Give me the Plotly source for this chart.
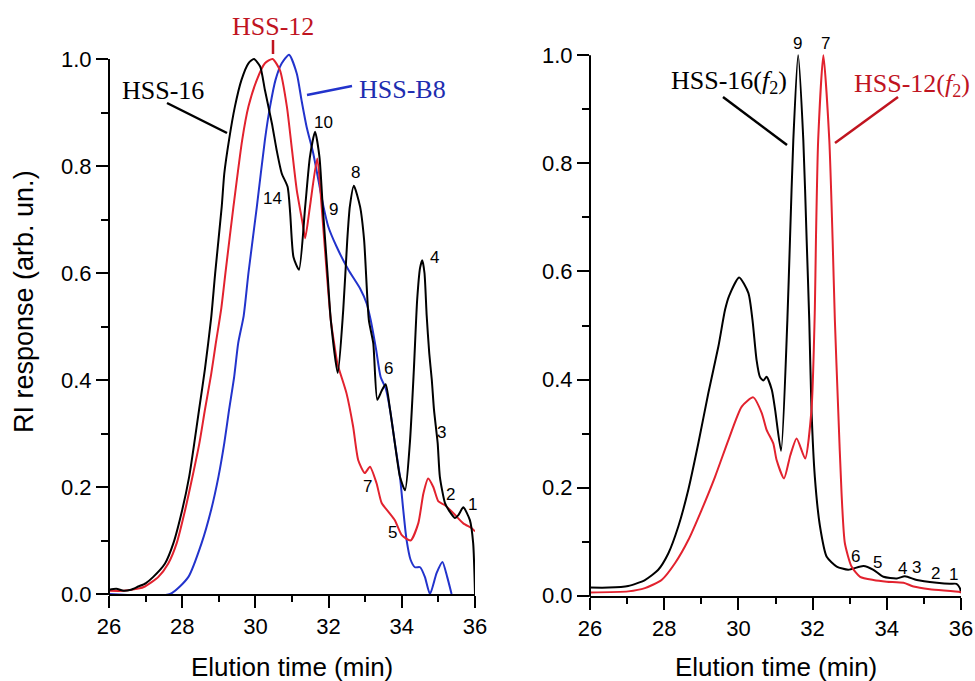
import plotly.graph_objects as go

# ---------------- data ----------------
# Left panel: HSS-16 (black)
hss16_x = [26.0, 26.2, 26.4, 26.6, 26.8, 27.0, 27.21, 27.53, 27.76, 28.00, 28.19, 28.33, 28.46,
           28.62, 28.79, 28.90, 29.08, 29.15, 29.28, 29.44, 29.62, 29.81, 29.96, 30.13, 30.26,
           30.45, 30.58, 30.72, 30.88, 30.95, 31.04, 31.19, 31.36, 31.49, 31.63, 31.75, 31.84,
           31.97, 32.06, 32.25, 32.40, 32.51, 32.58, 32.69, 32.86, 32.97, 33.10, 33.22, 33.33,
           33.45, 33.56, 33.68, 33.81, 33.95, 34.09, 34.22, 34.33, 34.42, 34.50, 34.56, 34.62,
           34.68, 34.75, 34.82, 34.88, 34.98, 35.04, 35.18, 35.30, 35.45, 35.55, 35.68, 35.86,
           35.95, 36.0]
hss16_y = [0.008, 0.010, 0.006, 0.008, 0.014, 0.020, 0.032, 0.057, 0.095, 0.157, 0.219, 0.282, 0.344,
           0.420, 0.515, 0.599, 0.724, 0.786, 0.849, 0.911, 0.961, 0.992, 1.000, 0.986, 0.942,
           0.880, 0.830, 0.786, 0.761, 0.712, 0.630, 0.606, 0.724, 0.817, 0.864, 0.817, 0.724,
           0.600, 0.512, 0.413, 0.531, 0.662, 0.724, 0.763, 0.724, 0.662, 0.512, 0.469, 0.363,
           0.380, 0.392, 0.344, 0.282, 0.219, 0.194, 0.282, 0.420, 0.550, 0.610, 0.624, 0.600,
           0.520, 0.450, 0.400, 0.344, 0.282, 0.219, 0.170, 0.155, 0.142, 0.148, 0.162, 0.138,
           0.095, 0.0]

# Left panel: HSS-12 (red)
hss12_x = [26.0, 26.4, 26.8, 26.98, 27.35, 27.62, 27.85, 28.08, 28.28, 28.47, 28.62, 28.79, 28.91,
           29.07, 29.19, 29.40, 29.64, 29.81, 30.04, 30.26, 30.47, 30.67, 30.86, 31.00, 31.13,
           31.29, 31.36, 31.49, 31.69, 31.81, 31.95, 32.06, 32.15, 32.24, 32.49, 32.67, 32.81,
           32.99, 33.13, 33.31, 33.45, 33.63, 33.81, 34.00, 34.24, 34.45, 34.59, 34.72, 34.86,
           35.00, 35.18, 35.41, 35.68, 35.91, 36.0]
hss12_y = [0.006, 0.006, 0.010, 0.014, 0.032, 0.057, 0.095, 0.157, 0.219, 0.282, 0.344, 0.410, 0.465,
           0.535, 0.605, 0.724, 0.849, 0.911, 0.961, 0.992, 1.000, 0.979, 0.911, 0.830, 0.755,
           0.693, 0.665, 0.724, 0.814, 0.724, 0.600, 0.512, 0.469, 0.431, 0.375, 0.313, 0.250,
           0.226, 0.238, 0.207, 0.170, 0.154, 0.138, 0.110, 0.100, 0.132, 0.188, 0.216, 0.200,
           0.173, 0.166, 0.151, 0.132, 0.123, 0.117]

# Left panel: HSS-B8 (blue)
hssb8_x = [26.0, 27.67, 28.17, 28.53, 28.79, 28.99, 29.15, 29.28, 29.42, 29.53, 29.68, 29.81, 30.04,
           30.26, 30.40, 30.55, 30.72, 30.92, 31.13, 31.26, 31.40, 31.58, 31.72, 31.86, 31.99,
           32.22, 32.54, 32.86, 33.04, 33.15, 33.30, 33.42, 33.56, 33.68, 33.81, 33.95, 34.04,
           34.13, 34.24, 34.36, 34.50, 34.63, 34.77, 34.95, 35.11, 35.24, 35.36]
hssb8_y = [0.0, 0.0, 0.032, 0.095, 0.157, 0.219, 0.282, 0.344, 0.406, 0.469, 0.520, 0.600, 0.724,
           0.849, 0.911, 0.961, 0.992, 1.008, 0.973, 0.923, 0.873, 0.824, 0.774, 0.724, 0.687,
           0.649, 0.606, 0.571, 0.543, 0.512, 0.456, 0.406, 0.384, 0.344, 0.282, 0.219, 0.157,
           0.101, 0.064, 0.050, 0.050, 0.032, 0.0, 0.039, 0.060, 0.032, 0.0]

# Right panel: HSS-16(f2) (black)
f16_x = [26.0, 26.5, 27.03, 27.48, 27.84, 28.11, 28.38, 28.65, 28.92, 29.19, 29.46, 29.64, 29.75,
         30.02, 30.27, 30.38, 30.49, 30.58, 30.67, 30.76, 30.90, 30.99, 31.15, 31.32, 31.39,
         31.48, 31.61, 31.75, 31.84, 31.91, 31.97, 32.06, 32.20, 32.38, 32.65, 32.96, 33.37,
         33.64, 33.91, 34.27, 34.49, 34.81, 35.35, 35.70, 35.88, 35.97, 36.0]
f16_y = [0.015, 0.015, 0.018, 0.029, 0.048, 0.078, 0.128, 0.196, 0.282, 0.375, 0.461, 0.529, 0.555,
         0.589, 0.560, 0.510, 0.436, 0.405, 0.398, 0.405, 0.381, 0.344, 0.268, 0.510, 0.658,
         0.843, 1.000, 0.843, 0.658, 0.510, 0.344, 0.220, 0.128, 0.072, 0.054, 0.048, 0.055,
         0.048, 0.035, 0.032, 0.036, 0.029, 0.024, 0.022, 0.022, 0.014, 0.005]

# Right panel: HSS-12(f2) (red)
f12_x = [26.0, 27.03, 27.48, 27.93, 28.29, 28.65, 29.01, 29.37, 29.73, 30.09, 30.40, 30.63, 30.76,
         30.94, 31.03, 31.23, 31.40, 31.57, 31.80, 31.97, 32.06, 32.09, 32.15, 32.29, 32.45,
         32.54, 32.60, 32.69, 32.78, 32.87, 33.05, 33.28, 33.64, 34.00, 34.45, 34.72, 35.16,
         35.97, 36.0]
f12_y = [0.006, 0.008, 0.014, 0.029, 0.060, 0.103, 0.159, 0.220, 0.288, 0.350, 0.367, 0.338, 0.307,
         0.282, 0.251, 0.217, 0.260, 0.291, 0.254, 0.344, 0.529, 0.658, 0.843, 1.000, 0.843,
         0.658, 0.510, 0.344, 0.190, 0.097, 0.054, 0.035, 0.029, 0.026, 0.024, 0.017, 0.012,
         0.007, 0.006]

x_tickvals = [26, 28, 30, 32, 34, 36]
y_tickvals = [0.0, 0.2, 0.4, 0.6, 0.8, 1.0]

# ---------------- styling / layout ----------------
W, H = 975, 681
BLACK = "#000000"
RED = "#e2222e"
BLUE = "#2233cc"
RED_TXT = "#c0141f"
BLUE_TXT = "#1e2db0"
SANS = "Liberation Sans, Arial, sans-serif"
SERIF = "Liberation Serif, Times New Roman, serif"
YMAX = 1.04


def P(px, py):
    """screen pixel -> paper coordinates"""
    return px / W, 1 - py / H


L_X = [P(109, 0)[0], P(475, 0)[0]]
L_Y = [P(0, 594)[1], P(0, 594 - YMAX * 535)[1]]
R_X = [P(590, 0)[0], P(961, 0)[0]]
R_Y = [P(0, 595.7)[1], P(0, 595.7 - YMAX * 540.4)[1]]

fig = go.Figure()
line_kw = dict(shape="spline", smoothing=0.6, width=2)
fig.add_trace(go.Scatter(x=hssb8_x, y=hssb8_y, mode="lines", line=dict(color=BLUE, **line_kw),
                         xaxis="x", yaxis="y", showlegend=False))
fig.add_trace(go.Scatter(x=hss12_x, y=hss12_y, mode="lines", line=dict(color=RED, **line_kw),
                         xaxis="x", yaxis="y", showlegend=False))
fig.add_trace(go.Scatter(x=hss16_x, y=hss16_y, mode="lines", line=dict(color=BLACK, **line_kw),
                         xaxis="x", yaxis="y", showlegend=False))
fig.add_trace(go.Scatter(x=f16_x, y=f16_y, mode="lines", line=dict(color=BLACK, **line_kw),
                         xaxis="x2", yaxis="y2", showlegend=False))
fig.add_trace(go.Scatter(x=f12_x, y=f12_y, mode="lines", line=dict(color=RED, **line_kw),
                         xaxis="x2", yaxis="y2", showlegend=False))

tickfont = dict(family=SANS, size=22, color=BLACK)


def xaxis(domain, anchor):
    return dict(domain=domain, anchor=anchor, range=[26, 36], tickvals=x_tickvals,
                ticks="outside", ticklen=12, tickwidth=2, tickcolor=BLACK, automargin=False,
                showline=True, linewidth=2, linecolor=BLACK, showgrid=False, zeroline=False,
                tickfont=tickfont, ticklabeloverflow="allow",
                minor=dict(dtick=1, tick0=26, ticks="outside", ticklen=6, tickwidth=2,
                           tickcolor=BLACK, showgrid=False))


def yaxis(domain, anchor):
    return dict(domain=domain, anchor=anchor, range=[0, YMAX], tickvals=y_tickvals,
                tickformat=".1f", ticks="outside", ticklen=12, tickwidth=2, tickcolor=BLACK,
                showline=False, showgrid=False, zeroline=False, tickfont=tickfont,
                automargin=False,
                minor=dict(dtick=0.1, tick0=0, ticks="outside", ticklen=7, tickwidth=2,
                           tickcolor=BLACK, showgrid=False))


fig.update_layout(
    width=W, height=H, autosize=False, margin=dict(l=0, r=0, t=0, b=0, pad=0, autoexpand=False),
    paper_bgcolor="white", plot_bgcolor="white", hovermode=False,
    xaxis=xaxis(L_X, "y"), yaxis=yaxis(L_Y, "x"),
    xaxis2=xaxis(R_X, "y2"), yaxis2=yaxis(R_Y, "x2"),
)

shapes = []


def seg(p1, p2, color, width=2.5):
    x0, y0 = P(*p1)
    x1, y1 = P(*p2)
    shapes.append(dict(type="line", xref="paper", yref="paper", x0=x0, y0=y0, x1=x1, y1=y1,
                       line=dict(color=color, width=width)))


# y-axis lines ending at 1.0
shapes.append(dict(type="line", xref="paper", yref="paper", x0=L_X[0], x1=L_X[0],
                   y0=L_Y[0] - 1 / H, y1=P(0, 594 - 535)[1], line=dict(color=BLACK, width=2)))
shapes.append(dict(type="line", xref="paper", yref="paper", x0=R_X[0], x1=R_X[0],
                   y0=R_Y[0] - 1 / H, y1=P(0, 595.7 - 540.4)[1], line=dict(color=BLACK, width=2)))

# leader lines
seg((273, 40), (273, 54), RED_TXT)
seg((167, 103), (227, 133), BLACK)
seg((307, 95), (352, 86), BLUE)
seg((723, 97), (787, 145), BLACK)
seg((898, 97), (835, 143), RED_TXT)

annotations = []


def txt(s, px, py, font, size, color, angle=0):
    x, y = P(px, py)
    annotations.append(dict(text=s, x=x, y=y, xref="paper", yref="paper", showarrow=False,
                            xanchor="center", yanchor="middle", textangle=angle,
                            font=dict(family=font, size=size, color=color)))


txt("HSS-12", 273, 27, SERIF, 26, RED_TXT)
txt("HSS-16", 163, 90, SERIF, 26, BLACK)
txt("HSS-B8", 402, 89, SERIF, 26, BLUE_TXT)
txt("HSS-16(<i>f</i><sub>2</sub>)", 729, 82, SERIF, 26, BLACK)
txt("HSS-12(<i>f</i><sub>2</sub>)", 912, 85, SERIF, 26, RED_TXT)

left_nums = [("10", 323, 122), ("14", 272, 198), ("9", 333, 210), ("8", 355, 173),
             ("4", 434, 257), ("6", 388, 368), ("3", 441, 432), ("7", 367, 486),
             ("2", 450, 494), ("1", 472, 504), ("5", 392, 532)]
right_nums = [("9", 797, 43), ("7", 825, 43), ("6", 855, 556), ("5", 877, 562),
              ("4", 902, 568), ("3", 916, 567), ("2", 935, 573), ("1", 953, 574)]
for s, px, py in left_nums + right_nums:
    txt(s, px, py, SANS, 17, BLACK)

txt("RI response (arb. un.)", 24, 302, SANS, 27, BLACK, angle=-90)
txt("Elution time (min)", 292, 667, SANS, 26, BLACK)
txt("Elution time (min)", 776, 667, SANS, 26, BLACK)

fig.update_layout(shapes=shapes, annotations=annotations)
fig.write_html(
    "out.html",
    config={"displayModeBar": False, "staticPlot": True},
    post_script="document.body.style.margin='0';document.body.style.overflow='hidden';",
)
